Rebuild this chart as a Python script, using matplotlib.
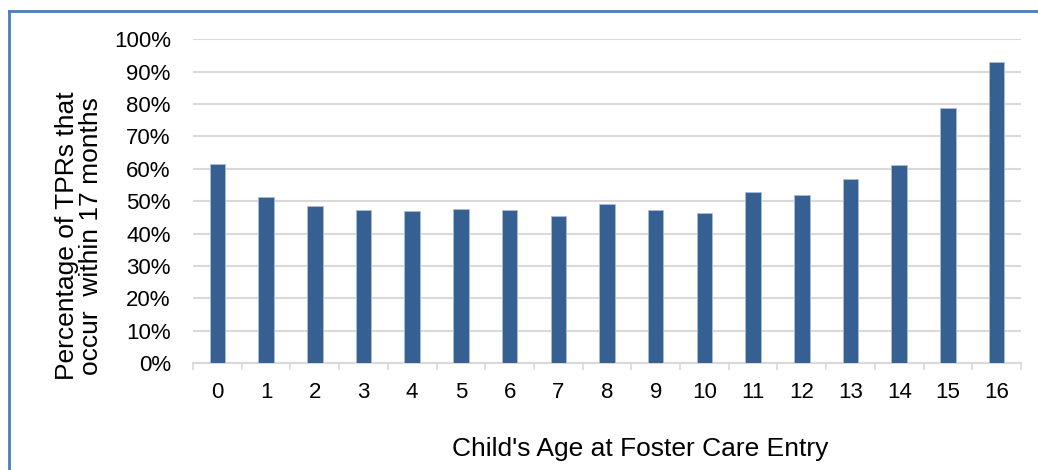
import matplotlib
matplotlib.use("Agg")
import matplotlib.pyplot as plt
from matplotlib.lines import Line2D
from matplotlib.ticker import FixedLocator, PercentFormatter

ages = [str(a) for a in range(17)]
pct_within_17mo = [61.5, 51.2, 48.5, 47.2, 46.9, 47.6, 47.2, 45.3, 49.2, 47.2,
                   46.4, 52.7, 52.0, 56.7, 61.1, 78.9, 93.1]
y_ticks = list(range(0, 101, 10))

plt.rcParams['font.family'] = ['Liberation Sans', 'DejaVu Sans']

W, H = 1038, 470
fig = plt.figure(figsize=(W / 100, H / 100), dpi=100)
ax = fig.add_axes([193 / W, 1 - 363 / H, (1021 - 193) / W, (363 - 39.3) / H])

x = range(len(ages))
ax.bar(x, pct_within_17mo, width=0.32, color='#366092',
       edgecolor='#a9bdd6', linewidth=0.6, zorder=3)

ax.set_xlim(-0.5, len(ages) - 0.5)
ax.set_ylim(0, 100)
ax.yaxis.set_major_locator(FixedLocator(y_ticks))
ax.yaxis.set_major_formatter(PercentFormatter(decimals=0))
ax.grid(axis='y', color='#d9d9d9', linewidth=1.5, zorder=0)
ax.set_axisbelow(True)

ax.set_xticks(list(x))
ax.set_xticklabels(ages)
ax.set_xticks([i - 0.5 for i in range(len(ages) + 1)], minor=True)
ax.tick_params(axis='x', which='major', length=0, pad=14, labelsize=16,
               colors='#000000')
ax.tick_params(axis='x', which='minor', length=5, width=1.2, color='#d9d9d9',
               direction='out')
ax.tick_params(axis='y', length=0, pad=16, labelsize=16)

for side in ('top', 'right', 'left'):
    ax.spines[side].set_visible(False)
ax.spines['bottom'].set_color('#d9d9d9')
ax.spines['bottom'].set_linewidth(1.5)

fig.text(79 / W, 1 - 236 / H, "Percentage of TPRs that\noccur  within 17 months",
         rotation=90, ha='center', va='center', fontsize=19, linespacing=1.0)
fig.text(640 / W, 1 - 449 / H, "Child's Age at Foster Care Entry",
         ha='center', va='center', fontsize=19)

# outer frame (top and left edges)
frame_col = '#4a7ebb'
fig.add_artist(Line2D([9 / W, 1.0], [1 - 11 / H, 1 - 11 / H],
                      transform=fig.transFigure, color=frame_col, linewidth=2))
fig.add_artist(Line2D([9 / W, 9 / W], [1 - 11 / H, 0.0],
                      transform=fig.transFigure, color=frame_col, linewidth=2))

fig.savefig("out.png", dpi=100)
